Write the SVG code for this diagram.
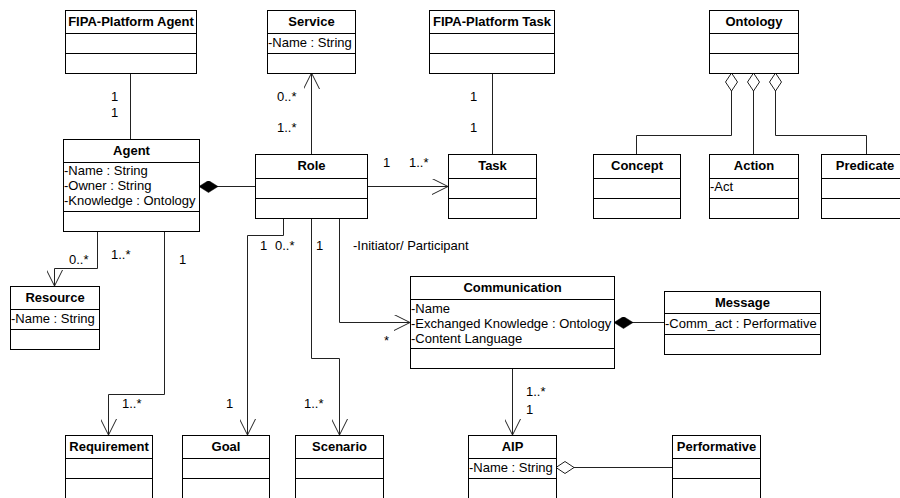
<svg xmlns="http://www.w3.org/2000/svg" width="900" height="498" viewBox="0 0 900 498">
<style>
.box{fill:#fff;stroke:#000;stroke-width:1}
.div{stroke:#000;stroke-width:1}
.t{font-family:"Liberation Sans",Arial,sans-serif;font-size:13px;font-weight:bold;text-anchor:middle;fill:#000}
.a{font-family:"Liberation Sans",Arial,sans-serif;font-size:13px;fill:#000}
.l{font-family:"Liberation Sans",Arial,sans-serif;font-size:13px;fill:#000}
.c{fill:none;stroke:#222;stroke-width:1}
</style>
<defs>
<marker id="open" viewBox="0 0 16 16" refX="16" refY="8" markerWidth="16" markerHeight="16" markerUnits="userSpaceOnUse" orient="auto">
<path d="M0,0 L16,8 L0,16" fill="none" stroke="#222" stroke-width="1"/>
</marker>
<marker id="comp" viewBox="0 0 19 12" refX="0" refY="6" markerWidth="19" markerHeight="12" markerUnits="userSpaceOnUse" orient="auto">
<path d="M0,6 L9.5,0 L19,6 L9.5,12 Z" fill="#000" stroke="#000" stroke-width="0.5"/>
</marker>
<marker id="agg" viewBox="-1 -1 20 14" refX="0" refY="6" markerWidth="20" markerHeight="14" markerUnits="userSpaceOnUse" orient="auto">
<path d="M0,6 L9,0 L18,6 L9,12 Z" fill="#fff" stroke="#222" stroke-width="1"/>
</marker>
</defs>
<rect width="900" height="498" fill="#fff"/>

<g id="connectors">
<path class="c" d="M130.5,73 V139"/>
<path class="c" d="M311.5,154 V73" marker-end="url(#open)"/>
<path class="c" d="M199,186.5 H255" marker-start="url(#comp)"/>
<path class="c" d="M367,186.5 H448" marker-end="url(#open)"/>
<path class="c" d="M492.5,73 V154"/>
<path class="c" d="M731.5,73 V135.5 H636.5 V154" marker-start="url(#agg)"/>
<path class="c" d="M753.5,73 V154" marker-start="url(#agg)"/>
<path class="c" d="M775.5,73 V135.5 H866.5 V154" marker-start="url(#agg)"/>
<path class="c" d="M97.5,231 V268.5 H54.5 V286" marker-end="url(#open)"/>
<path class="c" d="M164.5,231 V394.5 H108.5 V435" marker-end="url(#open)"/>
<path class="c" d="M283.5,218 V235.5 H247.5 V435" marker-end="url(#open)"/>
<path class="c" d="M311.5,218 V358.5 H339.5 V435" marker-end="url(#open)"/>
<path class="c" d="M339.5,218 V322.5 H410" marker-end="url(#open)"/>
<path class="c" d="M614,322.5 H664" marker-start="url(#comp)"/>
<path class="c" d="M512.5,368 V435" marker-end="url(#open)"/>
<path class="c" d="M556,467.5 H672" marker-start="url(#agg)"/>
</g>

<g id="labels">
<text class="l" x="111" y="101">1</text>
<text class="l" x="111" y="117">1</text>
<text class="l" x="277" y="101">0..*</text>
<text class="l" x="277" y="132">1..*</text>
<text class="l" x="383" y="167">1</text>
<text class="l" x="409" y="167">1..*</text>
<text class="l" x="470" y="101">1</text>
<text class="l" x="470" y="132">1</text>
<text class="l" x="69" y="264">0..*</text>
<text class="l" x="111" y="259">1..*</text>
<text class="l" x="179" y="264">1</text>
<text class="l" x="122" y="408">1..*</text>
<text class="l" x="260" y="250">1</text>
<text class="l" x="275" y="250">0..*</text>
<text class="l" x="316" y="250">1</text>
<text class="l" x="353" y="250">-Initiator/ Participant</text>
<text class="l" x="384" y="345">*</text>
<text class="l" x="226" y="408">1</text>
<text class="l" x="304" y="408">1..*</text>
<text class="l" x="526" y="396">1..*</text>
<text class="l" x="526" y="414">1</text>
</g>

<g id="fipa-platform-agent">
<rect class="box" x="65.5" y="10.5" width="131" height="63"/>
<line class="div" x1="65.5" y1="33.5" x2="196.5" y2="33.5"/>
<line class="div" x1="65.5" y1="53.5" x2="196.5" y2="53.5"/>
<text class="t" x="131" y="25.5">FIPA-Platform Agent</text>
</g>

<g id="service">
<rect class="box" x="267.5" y="10.5" width="88" height="63"/>
<line class="div" x1="267.5" y1="33.5" x2="355.5" y2="33.5"/>
<line class="div" x1="267.5" y1="53.5" x2="355.5" y2="53.5"/>
<text class="t" x="311.5" y="25.5">Service</text>
<text class="a" x="268" y="46.5">-Name : String</text>
</g>

<g id="fipa-platform-task">
<rect class="box" x="429.5" y="10.5" width="125" height="63"/>
<line class="div" x1="429.5" y1="33.5" x2="554.5" y2="33.5"/>
<line class="div" x1="429.5" y1="53.5" x2="554.5" y2="53.5"/>
<text class="t" x="492" y="25.5">FIPA-Platform Task</text>
</g>

<g id="ontology">
<rect class="box" x="709.5" y="10.5" width="89" height="63"/>
<line class="div" x1="709.5" y1="33.5" x2="798.5" y2="33.5"/>
<line class="div" x1="709.5" y1="53.5" x2="798.5" y2="53.5"/>
<text class="t" x="754" y="25.5">Ontology</text>
</g>

<g id="agent">
<rect class="box" x="63.5" y="139.5" width="136" height="92"/>
<line class="div" x1="63.5" y1="162.5" x2="199.5" y2="162.5"/>
<line class="div" x1="63.5" y1="211.5" x2="199.5" y2="211.5"/>
<text class="t" x="131.5" y="154.5">Agent</text>
<text class="a" x="64" y="174.5">-Name : String</text>
<text class="a" x="64" y="189.5">-Owner : String</text>
<text class="a" x="64" y="204.5">-Knowledge : Ontology</text>
</g>

<g id="role">
<rect class="box" x="255.5" y="154.5" width="112" height="64"/>
<line class="div" x1="255.5" y1="178.5" x2="367.5" y2="178.5"/>
<line class="div" x1="255.5" y1="198.5" x2="367.5" y2="198.5"/>
<text class="t" x="311.5" y="169.5">Role</text>
</g>

<g id="task">
<rect class="box" x="448.5" y="154.5" width="88" height="64"/>
<line class="div" x1="448.5" y1="178.5" x2="536.5" y2="178.5"/>
<line class="div" x1="448.5" y1="198.5" x2="536.5" y2="198.5"/>
<text class="t" x="492.5" y="169.5">Task</text>
</g>

<g id="concept">
<rect class="box" x="593.5" y="154.5" width="87" height="64"/>
<line class="div" x1="593.5" y1="178.5" x2="680.5" y2="178.5"/>
<line class="div" x1="593.5" y1="198.5" x2="680.5" y2="198.5"/>
<text class="t" x="637" y="169.5">Concept</text>
</g>

<g id="action">
<rect class="box" x="709.5" y="154.5" width="89" height="64"/>
<line class="div" x1="709.5" y1="178.5" x2="798.5" y2="178.5"/>
<line class="div" x1="709.5" y1="198.5" x2="798.5" y2="198.5"/>
<text class="t" x="754" y="169.5">Action</text>
<text class="a" x="710" y="190.5">-Act</text>
</g>

<g id="predicate">
<rect class="box" x="821.5" y="154.5" width="88" height="64"/>
<line class="div" x1="821.5" y1="178.5" x2="909.5" y2="178.5"/>
<line class="div" x1="821.5" y1="198.5" x2="909.5" y2="198.5"/>
<text class="t" x="865" y="169.5">Predicate</text>
</g>

<g id="resource">
<rect class="box" x="10.5" y="286.5" width="89" height="63"/>
<line class="div" x1="10.5" y1="309.5" x2="99.5" y2="309.5"/>
<line class="div" x1="10.5" y1="329.5" x2="99.5" y2="329.5"/>
<text class="t" x="55" y="301.5">Resource</text>
<text class="a" x="11" y="322.5">-Name : String</text>
</g>

<g id="communication">
<rect class="box" x="410.5" y="276.5" width="204" height="92"/>
<line class="div" x1="410.5" y1="299.5" x2="614.5" y2="299.5"/>
<line class="div" x1="410.5" y1="348.5" x2="614.5" y2="348.5"/>
<text class="t" x="512.5" y="291.5">Communication</text>
<text class="a" x="411" y="312.5">-Name</text>
<text class="a" x="411" y="327.5">-Exchanged Knowledge : Ontology</text>
<text class="a" x="411" y="342.5">-Content Language</text>
</g>

<g id="message">
<rect class="box" x="664.5" y="291.5" width="156" height="63"/>
<line class="div" x1="664.5" y1="313.5" x2="820.5" y2="313.5"/>
<line class="div" x1="664.5" y1="334.5" x2="820.5" y2="334.5"/>
<text class="t" x="742.5" y="306.5">Message</text>
<text class="a" x="665" y="327.5">-Comm_act : Performative</text>
</g>

<g id="requirement">
<rect class="box" x="65.5" y="435.5" width="87" height="70"/>
<line class="div" x1="65.5" y1="458.5" x2="152.5" y2="458.5"/>
<line class="div" x1="65.5" y1="478.5" x2="152.5" y2="478.5"/>
<text class="t" x="109" y="450.5">Requirement</text>
</g>

<g id="goal">
<rect class="box" x="182.5" y="435.5" width="87" height="70"/>
<line class="div" x1="182.5" y1="458.5" x2="269.5" y2="458.5"/>
<line class="div" x1="182.5" y1="478.5" x2="269.5" y2="478.5"/>
<text class="t" x="226" y="450.5">Goal</text>
</g>

<g id="scenario">
<rect class="box" x="295.5" y="435.5" width="88" height="70"/>
<line class="div" x1="295.5" y1="458.5" x2="383.5" y2="458.5"/>
<line class="div" x1="295.5" y1="478.5" x2="383.5" y2="478.5"/>
<text class="t" x="339.5" y="450.5">Scenario</text>
</g>

<g id="aip">
<rect class="box" x="468.5" y="435.5" width="88" height="70"/>
<line class="div" x1="468.5" y1="458.5" x2="556.5" y2="458.5"/>
<line class="div" x1="468.5" y1="478.5" x2="556.5" y2="478.5"/>
<text class="t" x="512.5" y="450.5">AIP</text>
<text class="a" x="469" y="471.5">-Name : String</text>
</g>

<g id="performative">
<rect class="box" x="672.5" y="435.5" width="88" height="70"/>
<line class="div" x1="672.5" y1="458.5" x2="760.5" y2="458.5"/>
<line class="div" x1="672.5" y1="478.5" x2="760.5" y2="478.5"/>
<text class="t" x="716.5" y="450.5">Performative</text>
</g>
</svg>
